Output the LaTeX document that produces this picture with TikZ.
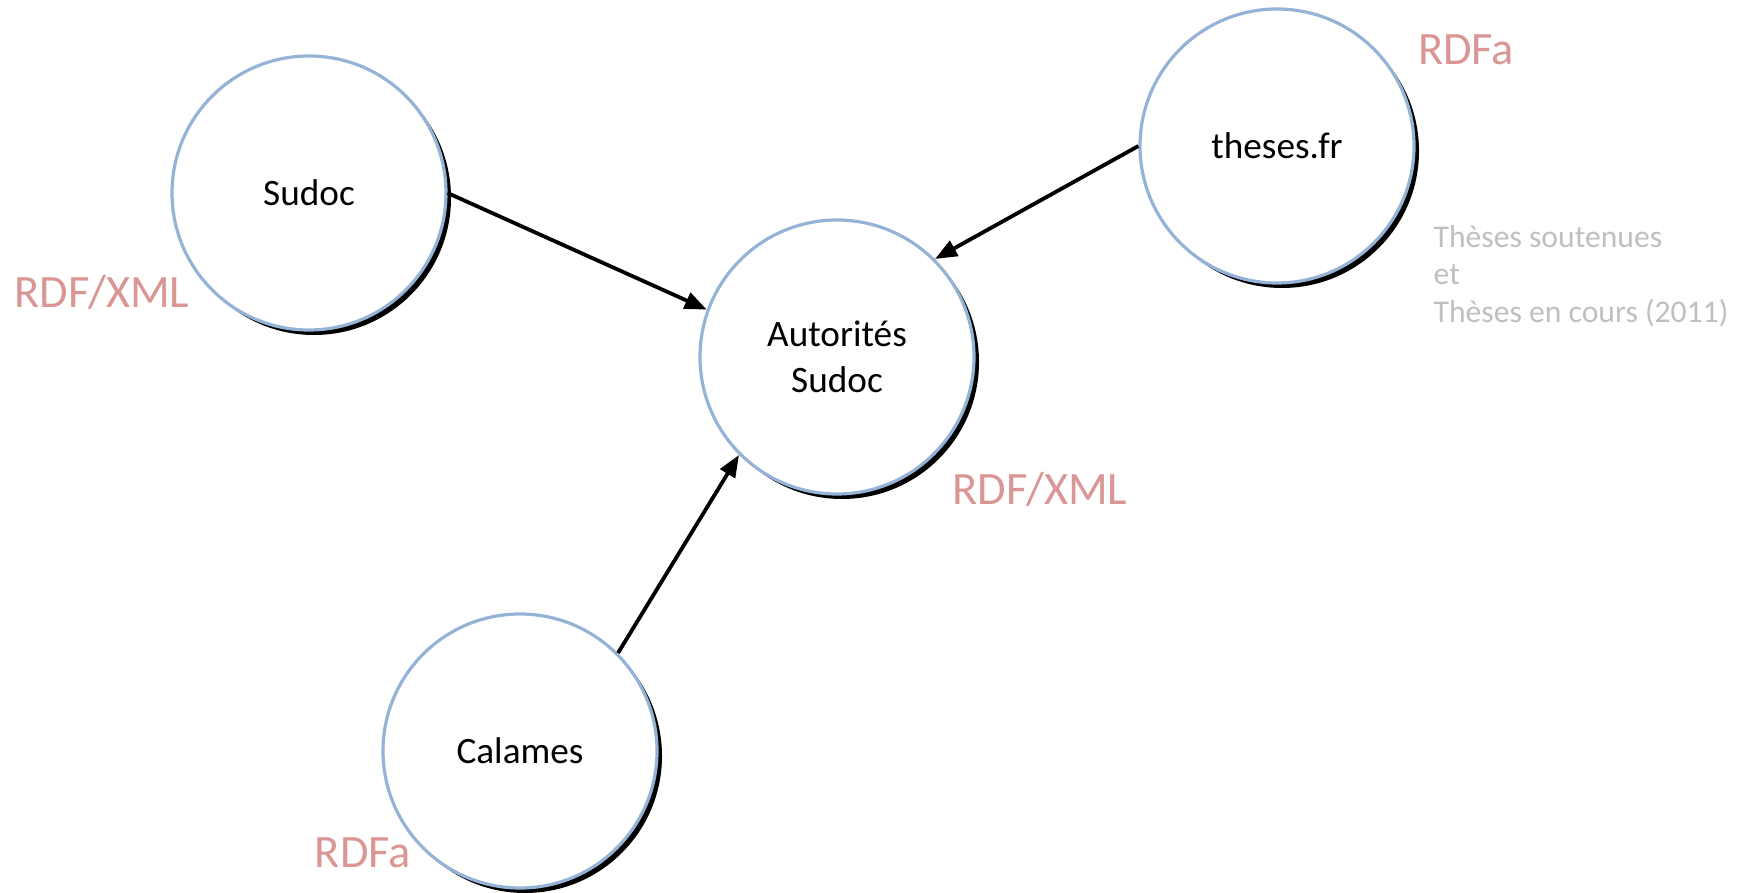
\documentclass[tikz,border=0pt]{standalone}
\usepackage{fontspec}
\setmainfont{Carlito}
\usepackage{tikz}
\usetikzlibrary{arrows.meta}
\usetikzlibrary{positioning}
\usetikzlibrary{shadows}

\definecolor{ringblue}{HTML}{95B3D7}
\definecolor{fmtred}{HTML}{D99694}
\definecolor{notegray}{HTML}{BFBFBF}

\begin{document}
\begin{tikzpicture}[on grid, >={Triangle[length=2.2mm, width=1.7mm]},
    source/.style={circle, draw=ringblue, line width=0.32mm, fill=white,
      minimum size=2.74cm, align=center, font=\fontsize{10.6}{13}\selectfont,
      drop shadow={shadow xshift=0.5mm, shadow yshift=-0.5mm, fill=black, opacity=1}},
    format/.style={text=fmtred, inner sep=0pt, font=\fontsize{13.2}{15}\selectfont},
    link/.style={->, line width=0.38mm}]
      \useasboundingbox (0,0) rectangle (17.5,-8.93);
      \node[source] (auto)    at (8.37,-3.57)                     {Autorités\\Sudoc};
      \node[source] (sudoc)   [above left=1.64cm and 5.28cm of auto]  {Sudoc};
      \node[source] (theses)  [above right=2.11cm and 4.40cm of auto] {theses.fr};
      \node[source] (calames) [below left=3.94cm and 3.17cm of auto]  {Calames};

      \node[format] (sudoc_fmt)   [below left=0.99cm and 2.07cm of sudoc]    {RDF/XML};
      \node[format] (auto_fmt)    [below right=1.32cm and 2.03cm of auto]    {RDF/XML};
      \node[format] (theses_fmt)  [above right=0.96cm and 1.89cm of theses]  {RDFa};
      \node[format] (calames_fmt) [below left=1.02cm and 1.57cm of calames]  {RDFa};
      \node[text=notegray, inner sep=0pt, align=left,
            font=\fontsize{9}{10.7}\selectfont]
            (theses_note) [below right=1.30cm and 1.56cm of theses, anchor=west]
            {Thèses soutenues\\et\\Thèses en cours (2011)};

      \path[link]
        (sudoc.east)    edge (auto.160)
        (theses.west)   edge (auto.45)
        (calames.45)    edge (auto.225);
    \end{tikzpicture}
\end{document}
